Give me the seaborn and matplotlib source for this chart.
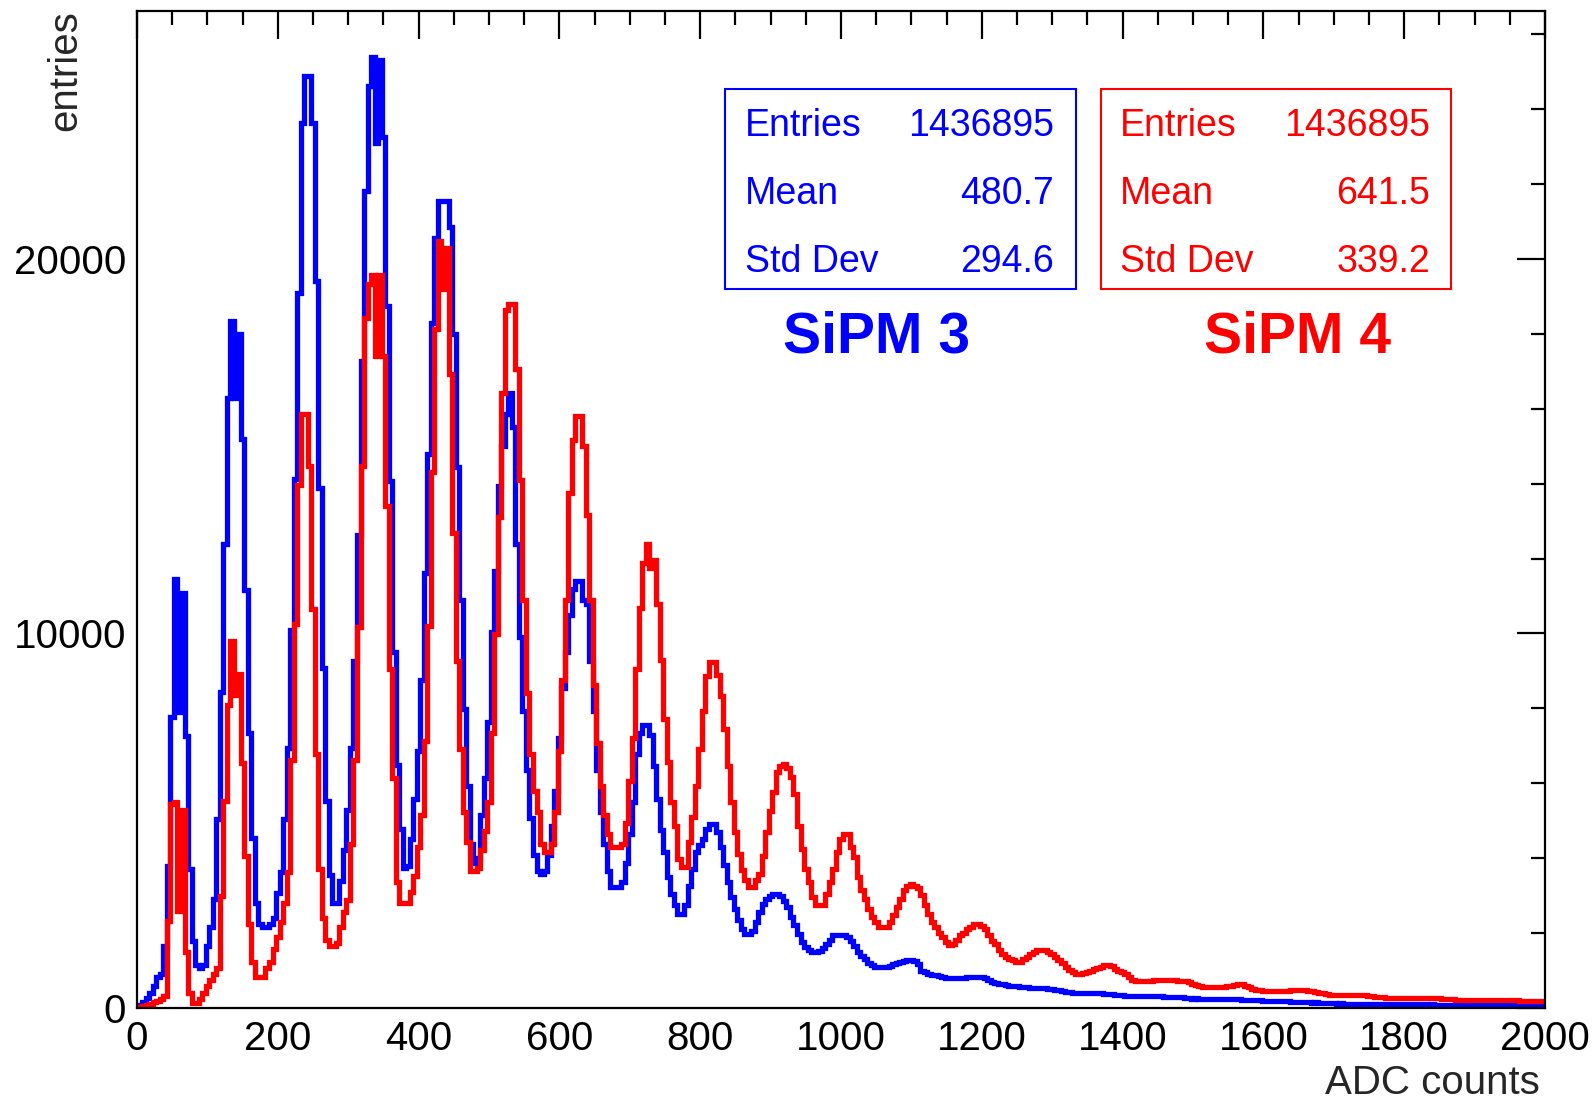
import numpy as np
import pandas as pd
import matplotlib
matplotlib.use("Agg")
import matplotlib.pyplot as plt
import seaborn as sns
from matplotlib.patches import Rectangle
from matplotlib.ticker import MultipleLocator

# ---------------- data ----------------
# bins are 5 ADC wide and centred on multiples of 5 (0, 5, ..., 2000)
BIN_WIDTH = 5
FIRST_CENTER = 0
ADC_MIN, ADC_MAX = 0, 2000

sipm3_counts = [
    40,
    80, 165, 280, 410, 580, 830, 910, 1650, 3800, 7770,
    11450, 7900, 11070, 7270, 3700, 1800, 1150, 1070, 1150, 1650,
    2150, 2900, 5040, 8430, 12400, 16300, 18350, 16300, 18000,
    15200, 11150, 7350, 4550, 2800, 2230, 2150, 2150, 2230, 2400, 3060,
    3640, 5040, 6940, 10080, 14130, 19090, 23640, 24880, 24880, 23640,
    19420, 13880, 9090, 5540, 3550, 2810, 2810, 3390, 4210, 5290,
    6940, 9260, 12640, 17270, 21820, 24630, 25400, 23100, 25300, 23250,
    18750, 14080, 9500, 6500, 4790, 3730, 3800, 4510, 5570, 6850,
    8770, 11610, 14800, 18280, 20550, 21550, 21550, 21550, 20840, 18000,
    14450, 10900, 7990, 5930, 4370, 3870, 4010, 5150, 6140, 7630,
    10040, 11680, 13950, 15000, 15870, 16430, 15500, 12390, 9900, 7920,
    6360, 5080, 4090, 3660, 3590, 3660, 4090, 4870, 5800, 7200,
    8550, 9500, 10500, 11200, 11390, 11390, 10900, 10800, 9270, 7920,
    6360, 5220, 4370, 3660, 3230, 3230, 3230, 3370, 3870, 4650,
    5500, 6780, 7350, 7560, 7560, 7280, 6470, 5590, 4740, 4160,
    3500, 3050, 2740, 2520, 2520, 2740, 3270, 3720, 4160, 4350,
    4520, 4790, 4920, 4920, 4700, 4300, 3810, 3360, 2960, 2650,
    2340, 2120, 1980, 1980, 2050, 2300, 2560, 2790, 2920, 3000,
    3050, 3050, 3000, 2870, 2700, 2430, 2210, 1980, 1760, 1630,
    1540, 1500, 1500, 1520, 1600, 1700, 1810, 1940, 1950, 1960,
    1950, 1900, 1800, 1650, 1500, 1380, 1300, 1200, 1140, 1100,
    1100, 1100, 1100, 1120, 1180, 1200, 1230, 1250, 1270, 1270,
    1260, 1180, 1000, 960, 920, 880, 870, 860, 820, 800,
    790, 790, 795, 805, 810, 820, 830, 830, 830, 820,
    790, 740, 700, 680, 650, 630, 620, 600, 590, 580,
    565, 560, 555, 545, 540, 540, 535, 525, 520, 510,
    490, 470, 450, 420, 415, 410, 410, 410, 405, 400,
    395, 390, 390, 390, 385, 380, 370, 360, 355, 345,
    330, 322, 320, 325, 320, 318, 322, 320, 316, 318,
    315, 295, 290, 292, 288, 290, 285, 262, 255, 252,
    255, 250, 240, 236, 238, 234, 236, 232, 235, 237,
    238, 236, 232, 215, 212, 210, 208, 210, 205, 185,
    182, 180, 178, 180, 176, 178, 175, 172, 155, 152,
    150, 148, 150, 146, 148, 145, 142, 140, 135, 122,
    120, 121, 118, 120, 117, 118, 116, 115, 114, 112,
    110, 111, 108, 110, 107, 108, 106, 105, 104, 100,
    96, 95, 97, 95, 94, 95, 93, 94, 92, 93,
    92, 91, 92, 90, 90, 82, 80, 78, 77, 78,
    76, 77, 75, 76, 74, 75, 73, 74, 72, 73,
    72, 71, 72, 70, 71, 70, 69, 70, 68, 68,
]

sipm4_counts = [
    15,
    30, 50, 80, 100, 165, 200, 250, 330, 2310, 5450,
    5500, 2600, 5290, 1490, 410, 130, 130, 250, 410, 580,
    740, 900, 1070, 2980, 5540, 8100, 9800, 8350, 8930, 6530,
    4050, 2230, 1240, 830, 830, 830, 1070, 1240, 1570, 1900,
    2300, 2810, 3640, 6610, 10250, 13970, 15850, 15850, 14460, 10660,
    6780, 3720, 2400, 1820, 1650, 1650, 1740, 2150, 2560, 2890,
    4380, 6610, 10170, 14460, 18430, 19340, 19580, 17400, 19580, 17400,
    13400, 9050, 6140, 3370, 2810, 2810, 2810, 3090, 3520, 4300,
    5150, 7140, 10190, 14310, 18140, 20480, 19200, 20300, 16930, 12670,
    9270, 6920, 5220, 4440, 3660, 3660, 3730, 4230, 4720,
    5500, 7350, 9980, 13100, 16430, 18630, 18790, 18790, 17070, 14090, 10900,
    8410, 6780, 5790, 5220, 4370, 4160, 4160, 4370, 5220, 6850,
    8770, 10900, 13740, 15160, 15800, 15800, 15010, 13170, 10900, 8630,
    7070, 5930, 5150, 4650, 4300, 4300, 4300, 4370, 4940, 6070,
    7210, 9050, 10690, 11890, 12390, 11750, 11960, 10800, 9300, 7720,
    6560, 5500, 4870, 3990, 3760, 3760, 4430, 5100, 5940, 6920,
    7940, 8870, 9230, 9230, 8900, 8340, 7450, 6470, 5500, 4700,
    4120, 3680, 3410, 3230, 3230, 3410, 3590, 4070, 4700, 5270,
    5760, 6300, 6470, 6520, 6400, 6160, 5720, 4870, 4250, 3720,
    3360, 2960, 2740, 2740, 2740, 3050, 3360, 3720, 4160, 4520,
    4650, 4650, 4300, 4030, 3500, 3140, 2920, 2650, 2430, 2300,
    2160, 2160, 2160, 2300, 2470, 2700, 2920, 3140, 3270, 3300,
    3270, 3200, 3010, 2740, 2500, 2300, 2160, 2000, 1900, 1750,
    1670, 1700, 1810, 1940, 2000, 2120, 2150, 2250, 2250, 2200,
    2120, 1950, 1800, 1700, 1540, 1450, 1370, 1300, 1280, 1230,
    1230, 1300, 1370, 1450, 1500, 1540, 1540, 1540, 1500, 1450,
    1370, 1280, 1190, 1100, 1010, 950, 920, 920, 940, 960,
    1000, 1050, 1080, 1100, 1140, 1140, 1120, 1050, 1000, 960,
    900, 830, 760, 720, 720, 720, 720, 730, 740, 750,
    760, 760, 760, 760, 750, 730, 720, 720, 700, 650,
    610, 580, 560, 550, 550, 555, 560, 570, 570, 580,
    590, 610, 630, 630, 600, 565, 520, 490, 470, 450,
    450, 450, 455, 460, 460, 460, 465, 470, 475, 475,
    475, 470, 460, 450, 430, 400, 390, 380, 360, 345,
    340, 340, 345, 350, 360, 360, 360, 355, 345, 330,
    315, 305, 300, 290, 280, 275, 270, 270, 270, 270,
    270, 270, 268, 266, 265, 265, 263, 262, 260, 255,
    245, 235, 230, 230, 225, 220, 215, 210, 210, 210,
    212, 210, 208, 210, 212, 210, 208, 206, 208, 210,
    210, 205, 200, 195, 190, 185, 180, 180, 182, 180,
]

series_labels = ["SiPM 3", "SiPM 4"]
series_colors = ["#0000ff", "#ff0000"]
stat_names = ["Entries", "Mean", "Std Dev"]
sipm3_stats = ["1436895", "480.7", "294.6"]
sipm4_stats = ["1436895", "641.5", "339.2"]
x_ticks = list(range(0, 2001, 200))
y_ticks = [0, 10000, 20000]
y_max = 26620
x_label = "ADC counts"
y_label = "entries"

# ---------------- figure ----------------
sns.set_style("white")
plt.rcParams["font.family"] = ["Liberation Sans", "DejaVu Sans"]

W, H = 1594, 1101
fig = plt.figure(figsize=(W / 100, H / 100), dpi=100)


def fx(px):
    return px / W


def fy(py):
    return 1 - py / H


ax = fig.add_axes([fx(137), fy(1008), (1545 - 137) / W, (1008 - 11) / H])

n_bins = len(sipm3_counts)
centers = FIRST_CENTER + BIN_WIDTH * np.arange(n_bins)
lo_edge = FIRST_CENTER - BIN_WIDTH / 2
hi_edge = lo_edge + BIN_WIDTH * n_bins
df = pd.DataFrame({
    "adc": np.concatenate([centers, centers]),
    "entries": sipm3_counts + sipm4_counts,
    "sipm": [series_labels[0]] * n_bins + [series_labels[1]] * len(sipm4_counts),
})

LINE_W = 3.8
for i, (label, color) in enumerate(zip(series_labels, series_colors)):
    sub = df[df["sipm"] == label].reset_index(drop=True)
    sns.histplot(data=sub, x="adc", weights="entries",
                 binwidth=BIN_WIDTH, binrange=(lo_edge, hi_edge),
                 element="step", fill=False, color=color,
                 linewidth=LINE_W, ax=ax, zorder=3 + i)
for line in ax.lines:
    line.set_linewidth(LINE_W)
    line.set_solid_joinstyle("miter")

ax.set_xlim(ADC_MIN, ADC_MAX)
ax.set_ylim(0, y_max)
ax.set_xticks(x_ticks)
ax.set_yticks(y_ticks)
ax.xaxis.set_minor_locator(MultipleLocator(50))
ax.yaxis.set_minor_locator(MultipleLocator(2000))
ax.tick_params(which="both", direction="in", top=True, right=True,
               width=1.6, color="black", labelsize=29, labelcolor="black")
ax.tick_params(which="major", length=20.5)
ax.tick_params(which="minor", length=10)
ax.tick_params(axis="y", pad=8)
ax.tick_params(axis="x", pad=9)
for s in ax.spines.values():
    s.set_visible(True)
    s.set_linewidth(1.6)
    s.set_color("black")
    s.set_zorder(6)
ax.grid(False)

ax.set_xlabel(x_label, fontsize=29, loc="right")
ax.xaxis.set_label_coords((1540 - 137) / (1545 - 137), -(1064 - 1008) / 997)
ax.set_ylabel(y_label, fontsize=29, loc="top")
ax.yaxis.set_label_coords((84 - 137) / (1545 - 137), 1 + 1 / 997)

# stats boxes
boxes = [
    (725, 1076, 745, 1054, sipm3_stats, series_colors[0], series_labels[0], 877),
    (1101, 1451, 1120, 1430, sipm4_stats, series_colors[1], series_labels[1], 1298),
]
row_baselines = [136, 204, 272]
for x0, x1, tl, tr, vals, col, lab, cx in boxes:
    fig.add_artist(Rectangle((fx(x0), fy(289)), (x1 - x0) / W, (289 - 89) / H,
                             transform=fig.transFigure, fill=False,
                             edgecolor=col, linewidth=1.5))
    for name, val, yb in zip(stat_names, vals, row_baselines):
        fig.text(fx(tl), fy(yb), name, color=col, fontsize=27,
                 ha="left", va="baseline")
        fig.text(fx(tr), fy(yb), val, color=col, fontsize=27,
                 ha="right", va="baseline")
    fig.text(fx(cx), fy(352), lab, color=col, fontsize=41, fontweight="bold",
             ha="center", va="baseline")

fig.savefig("out.png", dpi=100, facecolor="white")
